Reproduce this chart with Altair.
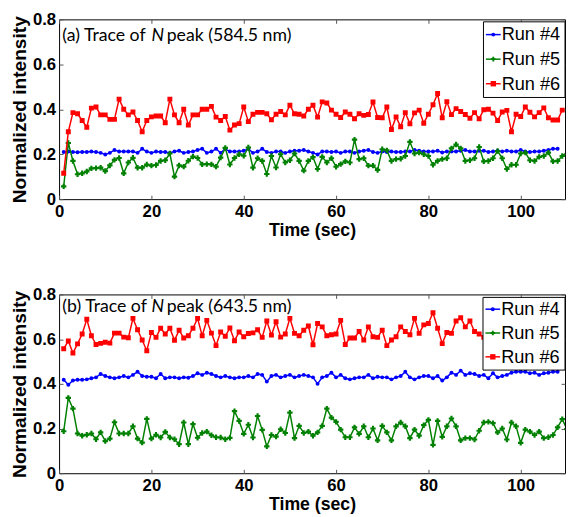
import altair as alt
import pandas as pd

RUNS = ["Run #4", "Run #5", "Run #6"]
COLORS = ["#0000ff", "#008000", "#ff0000"]
MARKERS = ["circle", "cross", "square"]
MARKER_SIZES = [16, 30, 25]
X_TICKS = [0, 20, 40, 60, 80, 100]
Y_TICKS = [0, 0.2, 0.4, 0.6, 0.8]
X_TITLE = "Time (sec)"
Y_TITLE = "Normalized intensity"
NOTE_A = ["(a) Trace of", "N", "peak (584.5 nm)"]
NOTE_B = ["(b) Trace of", "N", "peak (643.5 nm)"]

# Panel (a): 584.5 nm, sampled every second starting at t = 1 s
A4 = [0.21, 0.212, 0.21, 0.209, 0.21, 0.21, 0.212, 0.21, 0.206, 0.199,
      0.206, 0.219, 0.212, 0.212, 0.212, 0.212, 0.206, 0.224, 0.212, 0.206,
      0.212, 0.21, 0.21, 0.206, 0.212, 0.215, 0.206, 0.21, 0.212, 0.219,
      0.224, 0.206, 0.212, 0.224, 0.206, 0.224, 0.212, 0.212, 0.212, 0.215,
      0.224, 0.206, 0.212, 0.224, 0.21, 0.206, 0.212, 0.212, 0.206, 0.212,
      0.215, 0.215, 0.219, 0.212, 0.206, 0.199, 0.212, 0.212, 0.21, 0.212,
      0.206, 0.212, 0.212, 0.206, 0.212, 0.215, 0.219, 0.21, 0.206, 0.212,
      0.21, 0.212, 0.21, 0.21, 0.212, 0.212, 0.219, 0.215, 0.212, 0.212,
      0.212, 0.215, 0.208, 0.212, 0.212, 0.212, 0.215, 0.219, 0.212, 0.212,
      0.215, 0.215, 0.21, 0.212, 0.215, 0.212, 0.215, 0.212, 0.212, 0.219,
      0.212, 0.21, 0.212, 0.212, 0.215, 0.219, 0.224, 0.224]
A5 = [0.057, 0.25, 0.17, 0.111, 0.115, 0.123, 0.137, 0.138, 0.14, 0.125,
      0.15, 0.175, 0.183, 0.115, 0.163, 0.184, 0.14, 0.14, 0.154, 0.149,
      0.152, 0.17, 0.173, 0.203, 0.1, 0.15, 0.145, 0.171, 0.189, 0.183,
      0.155, 0.156, 0.155, 0.145, 0.185, 0.228, 0.154, 0.183, 0.2, 0.193,
      0.23, 0.14, 0.182, 0.17, 0.112, 0.192, 0.141, 0.2, 0.163, 0.173,
      0.203, 0.17, 0.127, 0.17, 0.187, 0.134, 0.188, 0.163, 0.182, 0.144,
      0.156, 0.168, 0.163, 0.265, 0.178, 0.182, 0.149, 0.149, 0.13, 0.222,
      0.217, 0.17, 0.178, 0.18, 0.192, 0.255, 0.203, 0.207, 0.2, 0.192,
      0.153, 0.17, 0.178, 0.182, 0.226, 0.243, 0.226, 0.17, 0.173, 0.182,
      0.232, 0.168, 0.17, 0.182, 0.214, 0.182, 0.134, 0.153, 0.153, 0.203,
      0.207, 0.173, 0.17, 0.188, 0.192, 0.207, 0.168, 0.17, 0.192, 0.2]
A6 = [0.115, 0.3, 0.385, 0.38, 0.35, 0.32, 0.405, 0.41, 0.375, 0.375,
      0.355, 0.355, 0.445, 0.4, 0.375, 0.388, 0.35, 0.3, 0.35, 0.366,
      0.37, 0.37, 0.34, 0.445, 0.375, 0.34, 0.4, 0.33, 0.375, 0.375,
      0.4, 0.4, 0.413, 0.365, 0.35, 0.368, 0.307, 0.33, 0.336, 0.41,
      0.345, 0.378, 0.386, 0.386, 0.38, 0.353, 0.378, 0.39, 0.375, 0.418,
      0.38, 0.378, 0.37, 0.4, 0.418, 0.365, 0.433, 0.428, 0.396, 0.378,
      0.363, 0.388, 0.378, 0.358, 0.38, 0.373, 0.377, 0.432, 0.363, 0.362,
      0.41, 0.31, 0.366, 0.322, 0.385, 0.335, 0.384, 0.396, 0.338, 0.378,
      0.42, 0.47, 0.362, 0.434, 0.376, 0.403, 0.39, 0.377, 0.36, 0.385,
      0.358, 0.398, 0.4, 0.383, 0.35, 0.388, 0.395, 0.3, 0.378, 0.368,
      0.41, 0.387, 0.366, 0.385, 0.406, 0.362, 0.352, 0.352, 0.396]

# Panel (b): 643.5 nm
B4 = [0.418, 0.396, 0.415, 0.418, 0.418, 0.42, 0.425, 0.429, 0.444, 0.435,
      0.429, 0.425, 0.429, 0.435, 0.429, 0.44, 0.454, 0.435, 0.432, 0.432,
      0.425, 0.444, 0.425, 0.429, 0.429, 0.425, 0.429, 0.427, 0.435, 0.447,
      0.44, 0.45, 0.444, 0.435, 0.429, 0.435, 0.429, 0.425, 0.429, 0.429,
      0.435, 0.429, 0.444, 0.44, 0.41, 0.435, 0.44, 0.429, 0.435, 0.44,
      0.429, 0.435, 0.44, 0.435, 0.429, 0.4, 0.429, 0.435, 0.45, 0.429,
      0.44, 0.425, 0.42, 0.425, 0.429, 0.429, 0.44, 0.425, 0.432, 0.429,
      0.429, 0.42, 0.429, 0.435, 0.454, 0.429, 0.42, 0.429, 0.435, 0.435,
      0.425, 0.435, 0.415, 0.429, 0.45, 0.44, 0.459, 0.44, 0.447, 0.444,
      0.435, 0.44, 0.425, 0.447, 0.429, 0.435, 0.44, 0.45, 0.454, 0.454,
      0.454, 0.447, 0.45, 0.44, 0.447, 0.45, 0.454, 0.454]
B5 = [0.188, 0.337, 0.289, 0.178, 0.168, 0.172, 0.178, 0.152, 0.183, 0.144,
      0.155, 0.228, 0.178, 0.178, 0.178, 0.21, 0.155, 0.137, 0.243, 0.155,
      0.172, 0.16, 0.185, 0.16, 0.152, 0.13, 0.227, 0.13, 0.22, 0.159,
      0.18, 0.186, 0.17, 0.161, 0.16, 0.152, 0.158, 0.278, 0.234, 0.176,
      0.217, 0.16, 0.256, 0.194, 0.12, 0.171, 0.164, 0.197, 0.18, 0.271,
      0.157, 0.212, 0.18, 0.186, 0.168, 0.183, 0.212, 0.289, 0.249, 0.23,
      0.195, 0.161, 0.161, 0.205, 0.176, 0.21, 0.161, 0.2, 0.147, 0.212,
      0.183, 0.147, 0.21, 0.227, 0.21, 0.157, 0.195, 0.168, 0.215, 0.239,
      0.127, 0.234, 0.163, 0.21, 0.245, 0.21, 0.147, 0.157, 0.157, 0.151,
      0.19, 0.227, 0.23, 0.224, 0.183, 0.2, 0.151, 0.227, 0.21, 0.136,
      0.195, 0.186, 0.171, 0.186, 0.157, 0.161, 0.171, 0.205, 0.242, 0.198]
B6 = [0.557, 0.592, 0.538, 0.579, 0.623, 0.689, 0.615, 0.576, 0.581, 0.586,
      0.582, 0.627, 0.627, 0.609, 0.606, 0.693, 0.642, 0.596, 0.548, 0.63,
      0.608, 0.649, 0.623, 0.649, 0.595, 0.64, 0.605, 0.615, 0.649, 0.693,
      0.615, 0.684, 0.627, 0.571, 0.632, 0.613, 0.65, 0.593, 0.632, 0.611,
      0.625, 0.628, 0.642, 0.608, 0.681, 0.618, 0.678, 0.609, 0.623, 0.693,
      0.626, 0.615, 0.64, 0.659, 0.575, 0.67, 0.655, 0.615, 0.62, 0.623,
      0.684, 0.576, 0.605, 0.605, 0.634, 0.596, 0.655, 0.611, 0.608, 0.64,
      0.571, 0.596, 0.611, 0.655, 0.634, 0.62, 0.693, 0.626, 0.664, 0.67,
      0.718, 0.649, 0.58, 0.63, 0.626, 0.681, 0.696, 0.655, 0.681, 0.634,
      0.623, 0.608, 0.61]

PLOT_W = 515
PLOT_H_A = 183
PLOT_H_B = 182

FONT = "Liberation Sans"


def frame(values, run):
    return pd.DataFrame({"t": list(range(1, len(values) + 1)), "v": values, "run": run})


def panel(series, note, height, note_y, legend_rows, legend_box):
    xs = alt.Scale(domain=[0, 109.6], nice=False, zero=False)
    ys = alt.Scale(domain=[0, 0.8], nice=False)
    cscale = alt.Scale(domain=RUNS, range=COLORS)
    axes = [
        (alt.Axis(orient="bottom", values=X_TICKS, title=X_TITLE, offset=-4, tickSize=4,
                  domain=False, grid=False, labelPadding=5, titlePadding=2,
                  titleFontSize=18, labelFlush=False, labelOverlap=False),
         alt.Axis(orient="left", values=Y_TICKS, title=Y_TITLE, offset=-4, tickSize=4,
                  domain=False, grid=False, labelPadding=3.5, titlePadding=3,
                  titleFontSize=19.5, labelFlush=False, labelOverlap=False,
                  labelExpr="datum.value == 0 ? '0' : format(datum.value, '.1f')")),
        (alt.Axis(orient="top", values=X_TICKS, title=None, labels=False, offset=-4,
                  tickSize=4, domain=False, grid=False),
         alt.Axis(orient="right", values=Y_TICKS, title=None, labels=False, offset=-4,
                  tickSize=4, domain=False, grid=False)),
        (None, None),
    ]
    layers = []
    for i, (run, vals) in enumerate(zip(RUNS, series)):
        ax, ay = axes[i]
        layers.append(
            alt.Chart(frame(vals, run)).mark_line(
                strokeWidth=1.5, clip=True,
                point=alt.OverlayMarkDef(filled=True, shape=MARKERS[i], size=MARKER_SIZES[i],
                                         opacity=1, clip=True),
            ).encode(
                x=alt.X("t:Q", scale=xs, axis=ax),
                y=alt.Y("v:Q", scale=ys, axis=ay),
                color=alt.Color("run:N", scale=cscale, legend=None),
            )
        )

    # annotation inside the plot
    for txt, nx, al, st in zip(note, [3.3, 94, 236.5], ["left", "left", "right"],
                               ["normal", "italic", "normal"]):
        layers.append(
            alt.Chart(pd.DataFrame({"s": [txt]})).mark_text(
                align=al, baseline="alphabetic", font="Lato", fontSize=18,
                fontStyle=st, color="black",
            ).encode(text="s:N", x=alt.value(nx), y=alt.value(note_y))
        )

    # boxed legend in the top-right corner
    leg = pd.DataFrame({"run": RUNS, "row": [0, 1, 2]})
    ly = alt.Y("row:Q", scale=alt.Scale(domain=[0, 2], range=legend_rows, nice=False, zero=False),
               axis=None)
    bx0, by0, by1 = legend_box
    layers.append(
        alt.Chart(pd.DataFrame({"k": [0]})).mark_rect(
            fill="white", stroke="black", strokeWidth=1
        ).encode(x=alt.value(bx0), x2=alt.value(PLOT_W), y=alt.value(by0), y2=alt.value(by1))
    )
    layers.append(
        alt.Chart(leg).mark_rule(strokeWidth=1.5).encode(
            x=alt.value(bx0 + 2.5), x2=alt.value(bx0 + 17.5), y=ly,
            color=alt.Color("run:N", scale=cscale, legend=None),
        )
    )
    layers.append(
        alt.Chart(leg).mark_point(filled=True, opacity=1).encode(
            x=alt.value(bx0 + 10), y=ly,
            color=alt.Color("run:N", scale=cscale, legend=None),
            shape=alt.Shape("run:N", scale=alt.Scale(domain=RUNS, range=MARKERS), legend=None),
            size=alt.Size("run:N", scale=alt.Scale(domain=RUNS, range=MARKER_SIZES), legend=None),
        )
    )
    layers.append(
        alt.Chart(leg).mark_text(
            align="left", baseline="middle", font=FONT, fontSize=18.5, color="black"
        ).encode(x=alt.value(bx0 + 18.5), y=ly, text="run:N")
    )
    return alt.layer(*layers).resolve_scale(y="independent").resolve_axis(
        x="independent", y="independent").properties(width=PLOT_W, height=height)


pa = panel([A4, A5, A6], NOTE_A, PLOT_H_A, 22, [15.5, 65.5], (432, 2.5, 79.5))
pb = panel([B4, B5, B6], NOTE_B, PLOT_H_B, 17.5, [15, 63.5], (431.5, 3, 77))

chart = alt.vconcat(pa, pb, spacing=45).properties(
    padding={"left": 1, "top": -3, "right": 0, "bottom": 0}, background="white"
).configure_view(stroke="black", strokeWidth=1).configure_axis(
    labelFont=FONT, labelFontSize=17, labelFontWeight="bold", labelColor="black",
    titleFont=FONT, titleFontWeight="bold", titleColor="black", tickColor="#555555",
    tickWidth=1,
)

chart.save("out.html", embed_options={"renderer": "svg", "actions": False})
